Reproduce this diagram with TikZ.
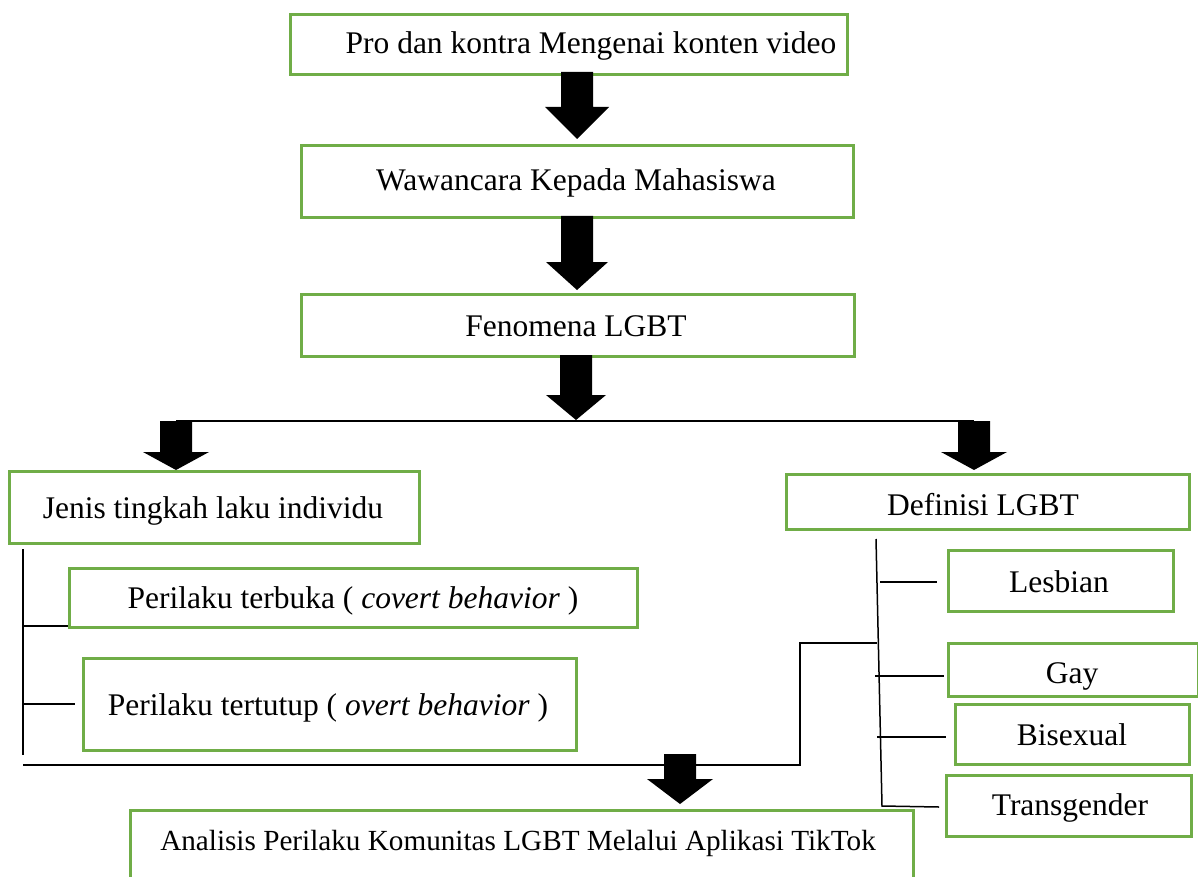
\documentclass[tikz,border=0pt]{standalone}
\usepackage{fontspec}
\setmainfont{Liberation Serif}
\definecolor{boxgreen}{HTML}{70AD47}
\newcommand\blockarrow[5]{%
  \fill[black] (#1-16,#2) -- (#1+16,#2) -- (#1+16,#3) -- (#1+#5,#3) -- (#1,#4) -- (#1-#5,#3) -- (#1-16,#3) -- cycle;}
\begin{document}
\begin{tikzpicture}[x=1pt,y=-1pt,
  box/.style={draw=boxgreen, line width=3pt, rectangle, anchor=north west, inner sep=0pt},
  txt/.style={font=\fontsize{31.5}{36}\selectfont, anchor=base, inner sep=0pt, text=black},
  thin/.style={draw=black, line width=1.5pt}]
\useasboundingbox (0,0) rectangle (1198,877);
\fill[white] (0,0) rectangle (1198,877);
% boxes
\node[box, minimum width=557pt, minimum height=60pt] (b1) at (289,13) {};
\node[box, minimum width=552pt, minimum height=72pt] (b2) at (300,144) {};
\node[box, minimum width=553pt, minimum height=62pt] (b3) at (300,293) {};
\node[box, minimum width=410pt, minimum height=72pt] (jenis) at (8,470) {};
\node[box, minimum width=403pt, minimum height=55pt] (def) at (785,473) {};
\node[box, minimum width=568pt, minimum height=59pt] (terbuka) at (68,567) {};
\node[box, minimum width=493pt, minimum height=92pt] (tertutup) at (82,657) {};
\node[box, minimum width=225pt, minimum height=61pt] (lesbian) at (947,549) {};
\node[box, minimum width=250pt, minimum height=53pt] (gay) at (947,642) {};
\node[box, minimum width=234pt, minimum height=60pt] (bisexual) at (954,703) {};
\node[box, minimum width=245pt, minimum height=61pt] (trans) at (945,774) {};
\node[box, minimum width=783pt, minimum height=90pt] (analisis) at (129,809) {};
% texts
\node[txt] (t1) at (591,54) {Pro dan kontra Mengenai konten video};
\node[txt] (t2) at (576,191) {Wawancara Kepada Mahasiswa};
\node[txt] (t3) at (576,336) {Fenomena LGBT};
\node[txt] (t4) at (213,518) {Jenis tingkah laku individu};
\node[txt] (t5) at (983,515) {Definisi LGBT};
\node[txt] (t6) at (353,608) {Perilaku terbuka ( \textit{covert behavior} )};
\node[txt] (t7) at (328,715) {Perilaku tertutup ( \textit{overt behavior} )};
\node[txt] (t8) at (1059,592) {Lesbian};
\node[txt] (t9) at (1072,683) {Gay};
\node[txt] (t10) at (1072,745) {Bisexual};
\node[txt] (t11) at (1070,815) {Transgender};
\node[txt, font=\fontsize{29.2}{34}\selectfont] (t12) at (518,850) {Analisis Perilaku Komunitas LGBT Melalui Aplikasi TikTok};
% connector coordinates
\coordinate (hl) at (176,421);
\coordinate (hr) at (974,421);
\coordinate (lvTop) at (23,549);
\coordinate (lvBot) at (23,755);
\coordinate (l1a) at (23,626);
\coordinate (l1b) at (68,626);
\coordinate (l2a) at (23,704);
\coordinate (l2b) at (75,704);
\coordinate (bl) at (23,765);
\coordinate (bm) at (800,765);
\coordinate (bu) at (800,643);
\coordinate (bj) at (877,643);
\coordinate (rvTop) at (876,539);
\coordinate (rvBot) at (882,806);
\coordinate (rt) at (939,807);
\coordinate (rl1) at (880,582);
\coordinate (rl2) at (937,582);
\coordinate (rg1) at (875,676);
\coordinate (rg2) at (944,676);
\coordinate (rb1) at (877,737);
\coordinate (rb2) at (946,737);
% thin lines
\draw[thin] (hl) -- (hr);
\draw[thin] (lvTop) -- (lvBot);
\draw[thin] (l1a) -- (l1b);
\draw[thin] (l2a) -- (l2b);
\draw[thin] (bl) -- (bm) -- (bu) -- (bj);
\draw[thin] (rvTop) -- (rvBot) -- (rt);
\draw[thin] (rl1) -- (rl2);
\draw[thin] (rg1) -- (rg2);
\draw[thin] (rb1) -- (rb2);
% block arrows
\blockarrow{577}{72}{107}{139}{32}
\blockarrow{577}{216}{262}{290}{31}
\blockarrow{576}{355}{395}{420}{30}
\blockarrow{176}{421}{452}{470}{33}
\blockarrow{974}{421}{452}{470}{33}
\blockarrow{680}{754}{779}{804}{33}
\end{tikzpicture}
\end{document}
